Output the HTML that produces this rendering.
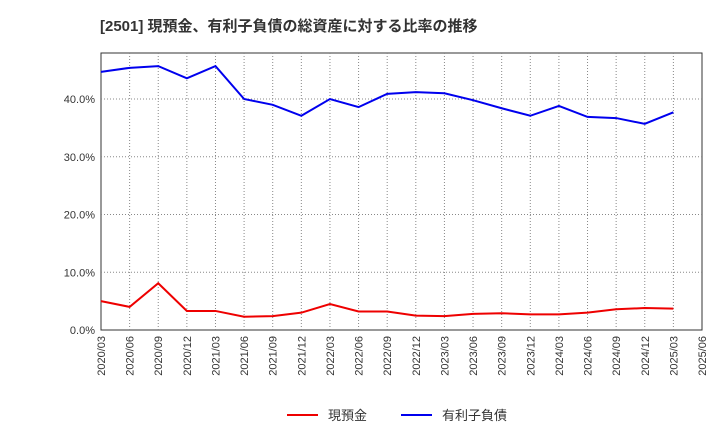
<!DOCTYPE html>
<html><head><meta charset="utf-8"><style>
body{margin:0;background:#fff;font-family:"Liberation Sans","Noto Sans CJK JP",sans-serif;}
svg text{font-family:"Liberation Sans","Noto Sans CJK JP",sans-serif;}
</style></head><body>
<svg id="chart" width="720" height="440" xmlns="http://www.w3.org/2000/svg">
<text x="100" y="31" font-size="15" font-weight="bold" fill="#333">[2501]  現預金、有利子負債の総資産に対する比率の推移</text>
<g id="grid"></g><g id="axes"></g><g id="series"></g>
<g>
<line x1="287" y1="415" x2="318" y2="415" stroke="#e00" stroke-width="2"/>
<text x="328" y="420" font-size="13" fill="#333">現預金</text>
<line x1="401" y1="415" x2="432" y2="415" stroke="#00e" stroke-width="2"/>
<text x="442" y="420" font-size="13" fill="#333">有利子負債</text>
</g>
</svg>
<script>
const categories=["2020/03","2020/06","2020/09","2020/12","2021/03","2021/06","2021/09","2021/12","2022/03","2022/06","2022/09","2022/12","2023/03","2023/06","2023/09","2023/12","2024/03","2024/06","2024/09","2024/12","2025/03","2025/06"];
const cashValues=[5.0,4.0,8.1,3.3,3.3,2.3,2.4,3.0,4.5,3.2,3.2,2.5,2.4,2.8,2.9,2.7,2.7,3.0,3.6,3.8,3.7];
const debtValues=[44.7,45.4,45.7,43.6,45.7,40.0,39.0,37.1,40.0,38.6,40.9,41.2,41.0,39.8,38.4,37.1,38.8,36.9,36.7,35.7,37.7];
const yTicks=[0,10,20,30,40];
const yTickLabels=["0.0%","10.0%","20.0%","30.0%","40.0%"];
const NS="http://www.w3.org/2000/svg";
const L=101,R=702,T=53,B=330,yMax=47.97;
const x=i=>L+i*(R-L)/(categories.length-1);
const y=v=>B-v*(B-T)/yMax;
function mk(tag,attrs,parent){const e=document.createElementNS(NS,tag);for(const k in attrs)e.setAttribute(k,attrs[k]);document.getElementById(parent).appendChild(e);return e;}
const bg=mk("rect",{x:L,y:T,width:R-L,height:B-T,fill:"#fff",stroke:"#333"},"grid");


categories.forEach((c,i)=>{
  if(i>0&&i<categories.length-1){const g=mk("line",{x1:x(i),x2:x(i),y1:T,y2:B,stroke:"#888","stroke-dasharray":"1,2","stroke-width":1},"grid");
  
  }
  const t=mk("text",{x:0,y:0,"font-size":11,fill:"#333","text-anchor":"end",transform:`translate(${x(i)+4},${B+6}) rotate(-90)`},"axes");
  
  
  t.textContent=c;
});
yTicks.forEach((v,i)=>{
  if(v>0){const g=mk("line",{x1:L,x2:R,y1:y(v),y2:y(v),stroke:"#888","stroke-dasharray":"1,2"},"grid");
  
  }
  const t=mk("text",{x:L-6,y:y(v)+4,"font-size":11,fill:"#333","text-anchor":"end"},"axes");
  
  
  t.textContent=yTickLabels[i];
});
function line(vals,color,name){
  const p=mk("polyline",{points:vals.map((v,i)=>x(i)+","+y(v)).join(" "),fill:"none",stroke:color,"stroke-width":2},"series");
  
  
}
line(cashValues,"#e00","cash-line");
line(debtValues,"#00e","debt-line");
</script>
</body></html>
